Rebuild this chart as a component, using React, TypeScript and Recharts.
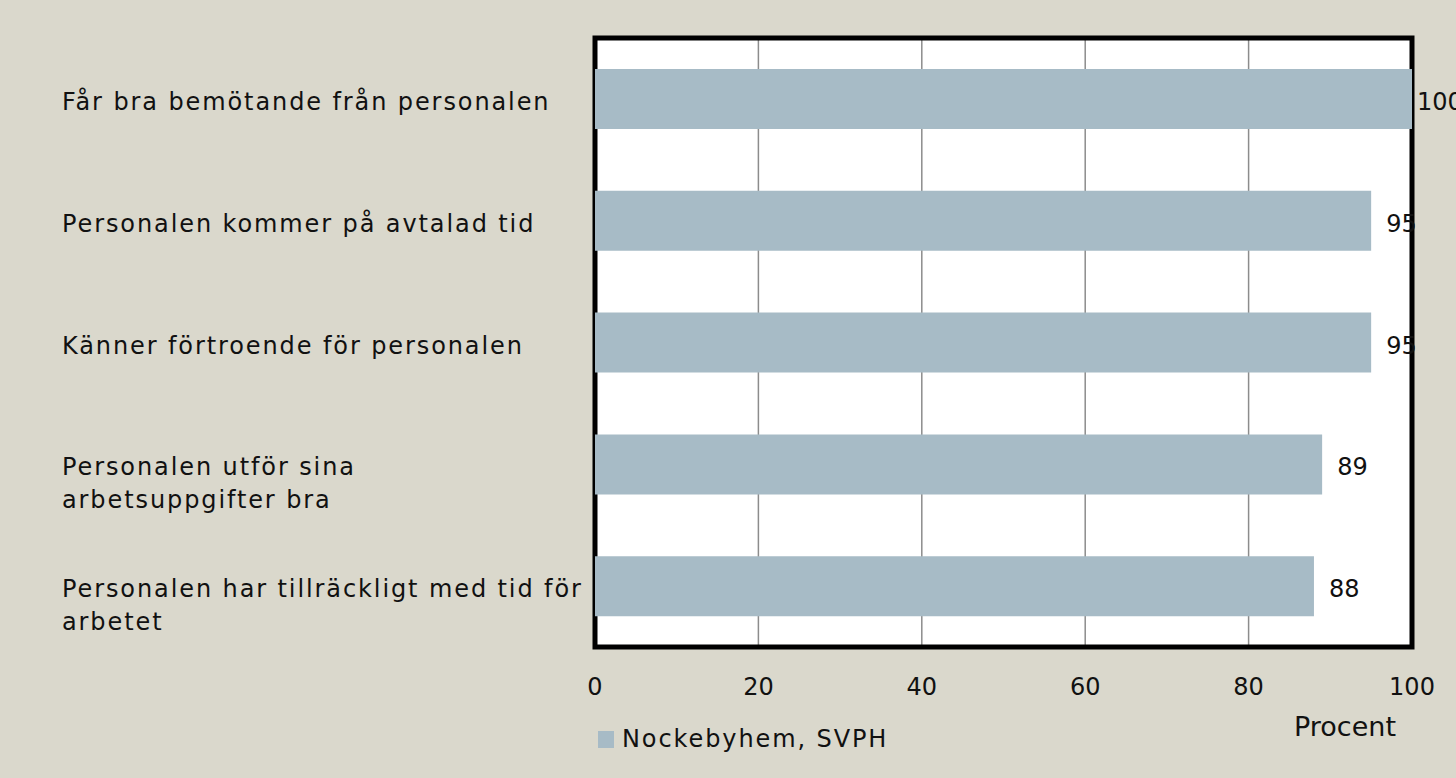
import React from 'react';
import { BarChart, Bar, XAxis, YAxis, CartesianGrid, Legend, LabelList, ReferenceArea } from 'recharts';

const categories = [
  'Får bra bemötande från personalen',
  'Personalen kommer på avtalad tid',
  'Känner förtroende för personalen',
  'Personalen utför sina\narbetsuppgifter bra',
  'Personalen har tillräckligt med tid för\narbetet',
];
const values = [100, 95, 95, 89, 88];
const xTicks = [0, 20, 40, 60, 80, 100];
const seriesName = 'Nockebyhem, SVPH';
const axisTitle = 'Procent';

const data = categories.map((name, i) => ({ name, value: values[i] }));

const FONT = '"DejaVu Sans", sans-serif';
const BAR_COLOR = '#a7bbc6';

// left-aligned, multi-line category labels
const CategoryTick = (props: any) => {
  const { y, payload } = props;
  const lines: string[] = String(payload.value).split('\n');
  return (
    <text x={62} y={y + 11} fontFamily={FONT} fontSize={24} letterSpacing={1.9} fill="#111">
      {lines.map((line, i) => (
        <tspan key={i} x={62} dy={i === 0 ? 0 : 33}>
          {line}
        </tspan>
      ))}
    </text>
  );
};

const ValueLabel = (props: any) => {
  const { x, y, width, height, value } = props;
  const lx = Math.min(x + width + 15, 1417);
  return (
    <text x={lx} y={y + height / 2 + 11} fontFamily={FONT} fontSize={24} fill="#111">
      {value}
    </text>
  );
};

const renderLegend = () => (
  <div style={{ display: 'flex', alignItems: 'center', fontFamily: FONT, fontSize: 24, letterSpacing: 1.9, color: '#111' }}>
    <span style={{ width: 16, height: 17, background: BAR_COLOR, display: 'inline-block', marginRight: 8 }} />
    {seriesName}
  </div>
);

const App = () => {
  return (
    <div style={{ position: 'absolute', left: 0, top: 0, width: 1456, height: 778, background: '#dad8cc' }}>
      <BarChart
        width={1456}
        height={778}
        data={data}
        layout="vertical"
        margin={{ top: 38, right: 44, bottom: 101, left: 0 }}
        barSize={60}
      >
        <CartesianGrid horizontal={false} stroke="#8c8c8c" strokeWidth={1.5} fill="#ffffff" />
        <XAxis
          type="number"
          domain={[0, 100]}
          ticks={xTicks}
          height={30}
          axisLine={false}
          tickLine={false}
          tickMargin={25}
          tick={{ fontFamily: FONT, fontSize: 24, fill: '#111' }}
          label={{
            content: (p: any) => (
              <text
                x={p.viewBox.x + p.viewBox.width - 67}
                y={p.viewBox.y + 89}
                textAnchor="middle"
                fontFamily={FONT}
                fontSize={27}
                fill="#111"
              >
                {axisTitle}
              </text>
            ),
          }}
        />
        <YAxis
          type="category"
          dataKey="name"
          width={595}
          axisLine={false}
          tickLine={false}
          tick={<CategoryTick />}
          interval={0}
        />
        <Bar dataKey="value" name={seriesName} fill={BAR_COLOR} isAnimationActive={false}>
          <LabelList dataKey="value" content={<ValueLabel />} />
        </Bar>
        <ReferenceArea x1={0} x2={100} fill="none" stroke="#000" strokeWidth={5} ifOverflow="visible" />
        <Legend
          layout="horizontal"
          verticalAlign="middle"
          align="center"
          content={renderLegend}
          wrapperStyle={{ position: 'absolute', left: 598, top: 725, width: 400, height: 34 }}
        />
      </BarChart>
    </div>
  );
};

export default App;
